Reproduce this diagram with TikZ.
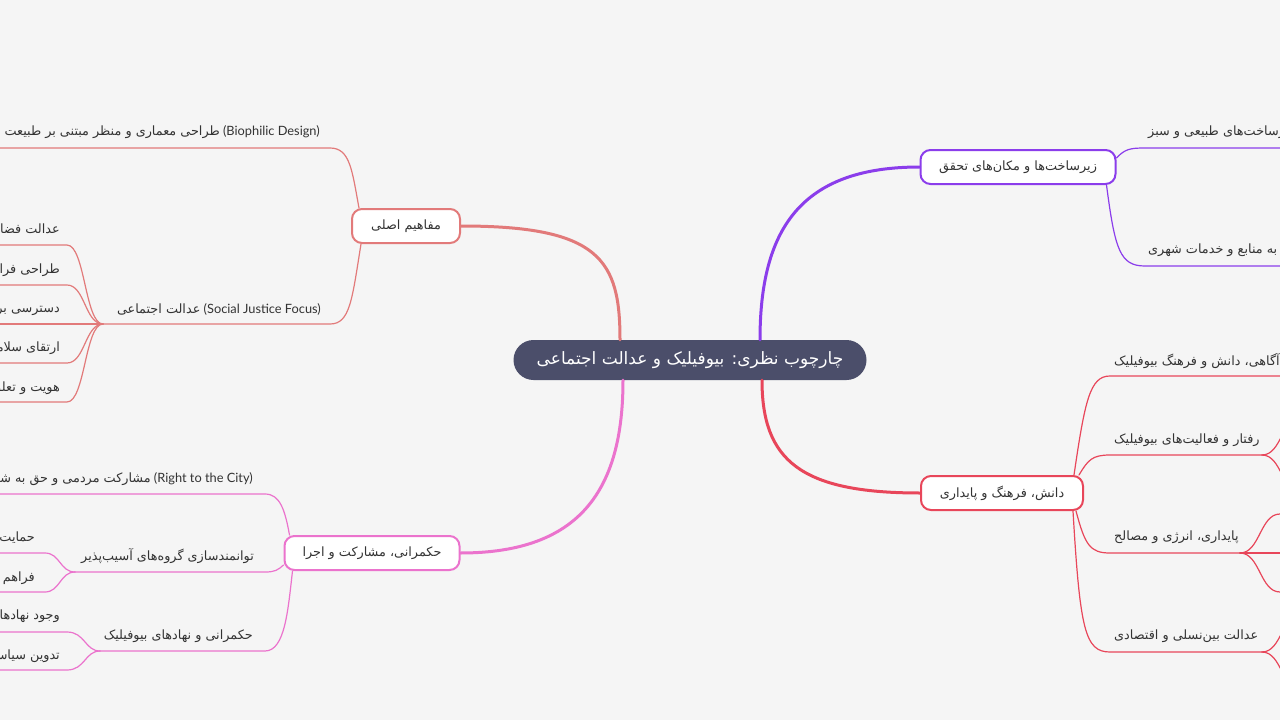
\documentclass[tikz,border=0pt]{standalone}
\usepackage{fontspec}
\setmainfont{Lato}
\newfontfamily\arabicfont[Script=Arabic]{DejaVu Sans}
\TeXXeTstate=1
\usepackage{tikz}
\usetikzlibrary{calc}

\definecolor{bgcol}{RGB}{245,245,245}
\definecolor{inkcol}{RGB}{51,51,51}
\definecolor{maincol}{RGB}{75,78,106}
\definecolor{conceptcol}{RGB}{226,122,122}
\definecolor{governcol}{RGB}{235,115,205}
\definecolor{infracol}{RGB}{139,61,235}
\definecolor{culturecol}{RGB}{232,70,90}

\newcommand{\fa}[1]{{\arabicfont\beginR #1\endR}}

\tikzset{
  mainnode/.style={fill=maincol, text=white, rounded corners=20pt, minimum height=40pt,
    font=\fontsize{17}{20}\selectfont},
  topic/.style={draw, fill=white, line width=2pt, rounded corners=10pt, minimum height=34pt,
    text=inkcol, font=\fontsize{12.8}{15}\selectfont},
  leaf/.style={text=inkcol, inner sep=0pt, font=\fontsize{12.8}{15}\selectfont},
  branch/.style={line width=3pt},
  twig/.style={line width=1.2pt}
}

\begin{document}
\begin{tikzpicture}[x=1pt,y=-1pt,line cap=round,line join=round]
\useasboundingbox (0,0) rectangle (1280,720);
\fill[bgcol] (0,0) rectangle (1280,720);
\clip (0,0) rectangle (1280,720);

% centre and main topics
\node[mainnode, minimum width=353pt] (main) at (690,360) {\fa{چارچوب نظری: بیوفیلیک و عدالت اجتماعی}};
\node[topic, draw=conceptcol, minimum width=108pt] (concepts) at (406,226) {\fa{مفاهیم اصلی}};
\node[topic, draw=governcol, minimum width=175pt] (govern) at (372,553) {\fa{حکمرانی، مشارکت و اجرا}};
\node[topic, draw=infracol, minimum width=195pt] (infra) at (1018,167) {\fa{زیرساخت‌ها و مکان‌های تحقق}};
\node[topic, draw=culturecol, minimum width=162pt] (culture) at (1002,493) {\fa{دانش، فرهنگ و پایداری}};

\draw[branch, conceptcol] ([xshift=-70pt]main.north) .. controls (620,260) and (600,226) .. (concepts.east);
\draw[branch, governcol] ([xshift=-67pt]main.south) .. controls (623,490) and (580,553) .. (govern.east);
\draw[branch, infracol] ([xshift=70pt]main.north) .. controls (760,230) and (800,167) .. (infra.west);
\draw[branch, culturecol] ([xshift=72pt]main.south) .. controls (762,460) and (800,493) .. (culture.west);

% main concepts
\node[leaf, anchor=east] (design) at (320,132) {\fa{طراحی معماری و منظر مبتنی بر طبیعت} (Biophilic Design)};
\node[leaf, anchor=east] (justice) at (321,309) {\fa{عدالت اجتماعی} (Social Justice Focus)};
\coordinate (design-end) at (0,148);
\coordinate (justice-hub) at (103,324);
\draw[twig, conceptcol] ([xshift=8pt]concepts.north west) .. controls (352,170) and (350,148) .. (330,148) -- (design-end);
\draw[twig, conceptcol] ([xshift=10pt]concepts.south west) .. controls (352,300) and (350,324) .. (330,324) -- (justice-hub);

\node[leaf, anchor=east] (spatial) at (60,230) {\fa{عدالت فضایی}};
\node[leaf, anchor=east] (inclusive) at (60,269) {\fa{طراحی فراگیر}};
\node[leaf, anchor=east] (access) at (60,309) {\fa{دسترسی برابر}};
\node[leaf, anchor=east] (health) at (60,348) {\fa{ارتقای سلامت}};
\node[leaf, anchor=east] (identity) at (60,388) {\fa{هویت و تعلق مکانی}};
\foreach \y in {245,285,324,363,402}
  \draw[twig, conceptcol] (justice-hub) .. controls (85,324) and (85,\y) .. (67,\y) -- (0,\y);

% governance
\node[leaf, anchor=east] (right) at (253,479) {\fa{مشارکت مردمی و حق به شهر} (Right to the City)};
\node[leaf, anchor=east] (empower) at (254,556) {\fa{توانمندسازی گروه‌های آسیب‌پذیر}};
\node[leaf, anchor=east] (inst) at (253,636) {\fa{حکمرانی و نهادهای بیوفیلیک}};
\coordinate (empower-hub) at (75,572);
\coordinate (inst-hub) at (100,651);
\draw[twig, governcol] ([xshift=6pt]govern.north west) .. controls (285,510) and (280,494) .. (265,494) -- (0,494);
\draw[twig, governcol] ([yshift=6pt]govern.south west) .. controls (278,570) and (275,572) .. (265,572) -- (empower-hub);
\draw[twig, governcol] ([xshift=9pt]govern.south west) .. controls (288,610) and (285,651) .. (265,651) -- (inst-hub);

\node[leaf, anchor=east] (support) at (35,537) {\fa{حمایت از گروه‌ها}};
\node[leaf, anchor=east] (provide) at (35,577) {\fa{فراهم آوردن فرصت‌ها}};
\foreach \y in {553,592}
  \draw[twig, governcol] (empower-hub) .. controls (60,572) and (60,\y) .. (45,\y) -- (0,\y);
\node[leaf, anchor=east] (bodies) at (60,616) {\fa{وجود نهادهای حامی}};
\node[leaf, anchor=east] (policy) at (60,656) {\fa{تدوین سیاست‌ها}};
\foreach \y in {632,670}
  \draw[twig, governcol] (inst-hub) .. controls (85,651) and (85,\y) .. (67,\y) -- (0,\y);

% infrastructure
\node[leaf, anchor=west] (green) at (1148,132) {\fa{زیرساخت‌های طبیعی و سبز}};
\node[leaf, anchor=west] (services) at (1148,250) {\fa{دسترسی به منابع و خدمات شهری}};
\draw[twig, infracol] ([yshift=-9pt]infra.north east) .. controls (1125,149) and (1130,148) .. (1145,148) -- (1280,148);
\draw[twig, infracol] ([xshift=-10pt]infra.south east) .. controls (1115,250) and (1120,266) .. (1145,266) -- (1280,266);

% knowledge, culture, sustainability
\node[leaf, anchor=west] (aware) at (1114,361) {\fa{آگاهی، دانش و فرهنگ بیوفیلیک}};
\node[leaf, anchor=west] (behave) at (1114,440) {\fa{رفتار و فعالیت‌های بیوفیلیک}};
\node[leaf, anchor=west] (energy) at (1114,537) {\fa{پایداری، انرژی و مصالح}};
\node[leaf, anchor=west] (equity) at (1114,636) {\fa{عدالت بین‌نسلی و اقتصادی}};
\coordinate (behave-hub) at (1262,455);
\coordinate (energy-hub) at (1240,553);
\coordinate (equity-hub) at (1262,652);
\draw[twig, culturecol] ([xshift=-10pt]culture.north east) .. controls (1085,400) and (1090,376) .. (1110,376) -- (1280,376);
\draw[twig, culturecol] ([xshift=-5pt]culture.north east) .. controls (1088,460) and (1092,455) .. (1110,455) -- (behave-hub);
\draw[twig, culturecol] ([xshift=-8pt]culture.south east) .. controls (1085,545) and (1090,553) .. (1110,553) -- (energy-hub);
\draw[twig, culturecol] ([xshift=-11pt]culture.south east) .. controls (1080,630) and (1085,652) .. (1110,652) -- (equity-hub);
\foreach \y in {416,494}
  \draw[twig, culturecol] (behave-hub) .. controls (1282,455) and (1282,\y) .. (1302,\y) -- (1320,\y);
\foreach \y in {514,553,592}
  \draw[twig, culturecol] (energy-hub) .. controls (1260,553) and (1260,\y) .. (1280,\y) -- (1320,\y);
\foreach \y in {613,691}
  \draw[twig, culturecol] (equity-hub) .. controls (1282,652) and (1282,\y) .. (1302,\y) -- (1320,\y);
\end{tikzpicture}
\end{document}
